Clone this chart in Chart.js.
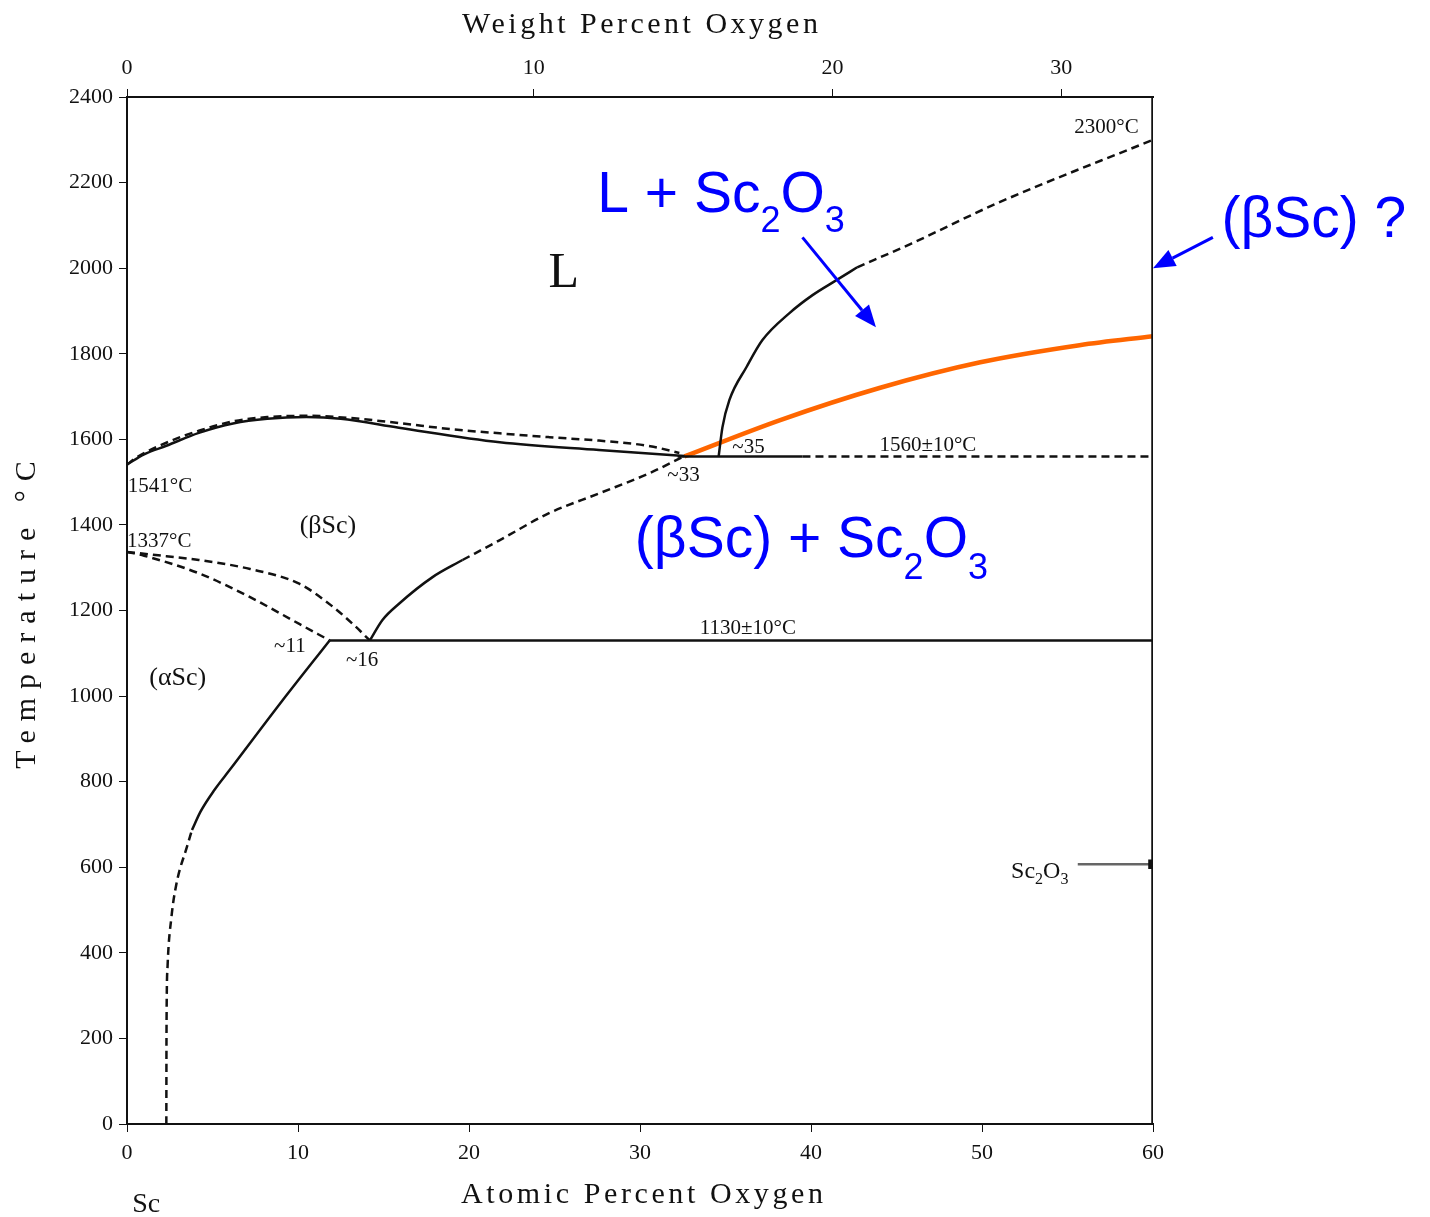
<!DOCTYPE html>
<html>
<head>
<meta charset="utf-8">
<title>Sc-O phase diagram</title>
<script src="https://cdn.jsdelivr.net/npm/chart.js@4.4.1/dist/chart.umd.min.js"></script>
<style>
  body { margin: 0; background: #fff; }
  #wrap { width: 1430px; height: 1217px; }
</style>
</head>
<body>
<div id="wrap"><canvas id="phase" width="1430" height="1217"></canvas></div>
<script>
// axis ticks
const wtTicks = [0, 10, 20, 30];          // weight percent O, top axis

// liquidus of (betaSc), solid
const liqX = [0, 1.0, 2.3, 4.2, 6.2, 8.2, 10.5, 12.5, 15.9, 21.8, 27.6, 32.6];
const liqT = [1541, 1565, 1585, 1615, 1637, 1648, 1652, 1648, 1627, 1593, 1575, 1561];

// solidus of (betaSc), dashed
const solX = [0, 0.5, 2.3, 4.2, 6.2, 8.2, 10.5, 13.0, 15.9, 18.9, 21.8, 24.7, 27.6, 30.6, 32.3];
const solT = [1541, 1556, 1592, 1620, 1642, 1652, 1655, 1650, 1638, 1624, 1614, 1605, 1597, 1584, 1568];

// eutectic 1560 C (solid part, then dashed part)
const eutSolidX = [32.2, 39.5];
const eutDashX = [39.5, 60];
const eutT = [1560, 1560];

// eutectoid 1130 C
const eut2X = [11.85, 60];
const eut2T = [1130, 1130];

// alpha/beta transus from 1337 C, two dashed curves
const transUpX = [0, 2.3, 4.2, 7.2, 10.1, 12.0, 13.3, 14.2];
const transUpT = [1337, 1327, 1318, 1297, 1262, 1210, 1165, 1130];
const transLoX = [0, 1.0, 4.2, 7.2, 10.1, 11.85];
const transLoT = [1337, 1328, 1287, 1231, 1168, 1130];

// solvus of (alphaSc): dashed from room temperature, then solid
const alphaDashX = [2.30, 2.31, 2.37, 2.6, 2.9, 3.5, 3.8];
const alphaDashT = [0, 213, 367, 484, 563, 647, 687];
const alphaX = [3.8, 4.3, 5.1, 6.0, 9.0, 11.85];
const alphaT = [687, 730, 780, 827, 985, 1130];

// solvus of (betaSc): solid, then dashed up to ~33
const betaX = [14.2, 14.94, 15.94, 17.87, 19.62];
const betaT = [1130, 1178, 1217, 1278, 1318];
const betaDashX = [19.62, 21.78, 24.71, 27.63, 30.56, 32.6];
const betaDashT = [1318, 1364, 1428, 1474, 1521, 1561];

// liquidus on the oxide side: solid, then dashed to 2300 C
const oxLiqX = [34.6, 34.82, 35.23, 36.23, 37.16, 38.74, 40.09, 41.49, 42.7];
const oxLiqT = [1560, 1628, 1692, 1769, 1832, 1895, 1937, 1972, 2002];
const oxLiqDashX = [42.7, 45.9, 50.9, 60];
const oxLiqDashT = [2002, 2058, 2152, 2300];

// added orange boundary
const newX = [32.6, 38.2, 44.0, 49.9, 55.7, 60];
const newT = [1560, 1645, 1720, 1780, 1820, 1841];

// Sc2O3 line composition
const oxideX = [60, 60];
const oxideT = [0, 2400];
const oxideTagX = [55.6, 60];
const oxideTagT = [607, 607];

// blue arrows [x, T] tail -> tip
const arrows = [
  { from: [39.5, 2072], to: [43.8, 1862] },
  { from: [63.5, 2072], to: [60.0, 2000] }
];

const pts = (xs, ts) => xs.map((x, i) => ({ x: x, y: ts[i] }));
const wtToAt = w => 100 * (w / 16) / (w / 16 + (100 - w) / 44.956);

const serif = "'Liberation Serif', 'DejaVu Serif', serif";
const sans = "'Liberation Sans', Arial, sans-serif";

const solid = (data, extra) => Object.assign({
  data: data, borderColor: '#111', borderWidth: 2.5, pointRadius: 0,
  fill: false, cubicInterpolationMode: 'monotone'
}, extra || {});
const dashed = (data, extra) => solid(data, Object.assign({ borderDash: [8, 5] }, extra || {}));
const straight = { cubicInterpolationMode: 'default', tension: 0 };

// black text labels, data coordinates, left/baseline
const notes = [
  { t: 'L', x: 24.65, y: 1956, size: 50 },
  { t: '1541°C', x: 0.05, y: 1477, size: 21 },
  { t: '1337°C', x: 0.0, y: 1348, size: 21 },
  { t: '(βSc)', x: 10.1, y: 1381, size: 26 },
  { t: '(αSc)', x: 1.3, y: 1026, size: 26 },
  { t: '~11', x: 8.6, y: 1103, size: 21 },
  { t: '~16', x: 12.8, y: 1070, size: 21 },
  { t: '~33', x: 31.6, y: 1502, size: 21 },
  { t: '~35', x: 35.4, y: 1568, size: 21 },
  { t: '1560±10°C', x: 44.0, y: 1572, size: 21 },
  { t: '1130±10°C', x: 33.5, y: 1145, size: 21 },
  { t: '2300°C', x: 55.4, y: 2315, size: 21 },
  { t: 'Sc', x: 0.3, y: -206, size: 28 }
];

// formulas with subscripts
const richNotes = [
  { parts: [['L + Sc'], ['2', 1], ['O'], ['3', 1]], x: 27.5, y: 2131, size: 57, sub: 36, drop: 20, color: '#0000ff', font: sans },
  { parts: [['(βSc) ?']], x: 64.0, y: 2072, size: 57, sub: 36, drop: 20, color: '#0000ff', font: sans },
  { parts: [['(βSc) + Sc'], ['2', 1], ['O'], ['3', 1]], x: 29.7, y: 1325, size: 57, sub: 36, drop: 22, color: '#0000ff', font: sans },
  { parts: [['Sc'], ['2', 1], ['O'], ['3', 1]], x: 51.7, y: 575, size: 24, sub: 16, drop: 6, color: '#111', font: serif }
];

// axis titles, spaced out like the typewriter lettering of the scan
const axisTitles = [
  { t: 'Weight Percent Oxygen', cx: 640, cy: 25, size: 30, spacing: 3.5, rot: 0 },
  { t: 'Atomic Percent Oxygen', cx: 642, cy: 1195, size: 30, spacing: 3.6, rot: 0 },
  { t: 'Temperature °C', cx: 27, cy: 615, size: 30, spacing: 9, rot: -Math.PI / 2 }
];

const notesPlugin = {
  id: 'notes',
  afterDatasetsDraw(chart) {
    const ctx = chart.ctx;
    const sx = chart.scales.x, sy = chart.scales.y;
    ctx.save();
    ctx.textBaseline = 'alphabetic';
    ctx.textAlign = 'left';
    ctx.fillStyle = '#111';
    notes.forEach(n => {
      ctx.font = n.size + 'px ' + serif;
      ctx.fillText(n.t, sx.getPixelForValue(n.x), sy.getPixelForValue(n.y));
    });
    richNotes.forEach(n => {
      let px = sx.getPixelForValue(n.x);
      const py = sy.getPixelForValue(n.y);
      ctx.fillStyle = n.color;
      n.parts.forEach(p => {
        const isSub = p[1] === 1;
        ctx.font = (isSub ? n.sub : n.size) + 'px ' + n.font;
        ctx.fillText(p[0], px, py + (isSub ? n.drop : 0));
        px += ctx.measureText(p[0]).width;
      });
    });
    // axis titles
    ctx.fillStyle = '#111';
    ctx.textAlign = 'center';
    ctx.textBaseline = 'middle';
    axisTitles.forEach(a => {
      ctx.save();
      ctx.translate(a.cx, a.cy);
      ctx.rotate(a.rot);
      ctx.font = a.size + 'px ' + serif;
      ctx.letterSpacing = a.spacing + 'px';
      ctx.fillText(a.t, a.spacing / 2, 0);
      ctx.restore();
    });
    // arrows
    ctx.strokeStyle = '#0000ff';
    ctx.fillStyle = '#0000ff';
    ctx.lineWidth = 3;
    arrows.forEach(a => {
      const x1 = sx.getPixelForValue(a.from[0]), y1 = sy.getPixelForValue(a.from[1]);
      const x2 = sx.getPixelForValue(a.to[0]), y2 = sy.getPixelForValue(a.to[1]);
      const ang = Math.atan2(y2 - y1, x2 - x1);
      const len = 22, half = 9;
      const bx = x2 - len * Math.cos(ang), by = y2 - len * Math.sin(ang);
      ctx.beginPath();
      ctx.moveTo(x1, y1);
      ctx.lineTo(bx, by);
      ctx.stroke();
      ctx.beginPath();
      ctx.moveTo(x2, y2);
      ctx.lineTo(bx + half * Math.sin(ang), by - half * Math.cos(ang));
      ctx.lineTo(bx - half * Math.sin(ang), by + half * Math.cos(ang));
      ctx.closePath();
      ctx.fill();
    });
    ctx.restore();
  }
};

const tickFont = { family: serif, size: 22 };

new Chart(document.getElementById('phase'), {
  type: 'line',
  data: {
    datasets: [
      solid(pts(liqX, liqT)),
      dashed(pts(solX, solT)),
      solid(pts(eutSolidX, eutT), straight),
      dashed(pts(eutDashX, eutT), straight),
      solid(pts(eut2X, eut2T), straight),
      dashed(pts(transUpX, transUpT)),
      dashed(pts(transLoX, transLoT)),
      dashed(pts(alphaDashX, alphaDashT)),
      solid(pts(alphaX, alphaT)),
      solid(pts(betaX, betaT)),
      dashed(pts(betaDashX, betaDashT)),
      solid(pts(oxLiqX, oxLiqT)),
      dashed(pts(oxLiqDashX, oxLiqDashT)),
      solid(pts(oxideX, oxideT), Object.assign({ borderWidth: 3.5 }, straight)),
      solid(pts(oxideTagX, oxideTagT), Object.assign({
        borderColor: '#666', borderWidth: 2.5, pointRadius: [0, 5], pointStyle: 'rect',
        pointBackgroundColor: '#111', pointBorderColor: '#111'
      }, straight)),
      solid(pts(newX, newT), { borderColor: '#ff6600', borderWidth: 4.5 })
    ]
  },
  options: {
    responsive: false,
    animation: false,
    devicePixelRatio: 1,
    layout: { padding: { left: 0, right: 277, top: 0, bottom: 0 } },
    plugins: { legend: { display: false }, tooltip: { enabled: false } },
    scales: {
      x: {
        type: 'linear', position: 'bottom', min: 0, max: 60,
        afterFit: s => { s.height = 93; },
        ticks: { stepSize: 10, color: '#111', font: tickFont, padding: 8, maxRotation: 0 },
        grid: { drawOnChartArea: false, tickLength: 8, color: '#111' },
        border: { display: true, color: '#111', width: 2 }
      },
      xTop: {
        type: 'linear', position: 'top', min: 0, max: 60,
        afterFit: s => { s.height = 97; },
        afterBuildTicks: s => { s.ticks = wtTicks.map(w => ({ value: wtToAt(w) })); },
        ticks: { color: '#111', font: tickFont, padding: 8, maxRotation: 0, callback: (v, i) => wtTicks[i] },
        grid: { drawOnChartArea: false, tickLength: 8, color: '#111' },
        border: { display: true, color: '#111', width: 2 }
      },
      y: {
        type: 'linear', min: 0, max: 2400,
        afterFit: s => { s.width = 127; },
        ticks: { stepSize: 200, color: '#111', font: tickFont, padding: 6, callback: v => String(v) },
        grid: { drawOnChartArea: false, tickLength: 8, color: '#111' },
        border: { display: true, color: '#111', width: 2 }
      }
    }
  },
  plugins: [notesPlugin]
});
</script>
</body>
</html>
